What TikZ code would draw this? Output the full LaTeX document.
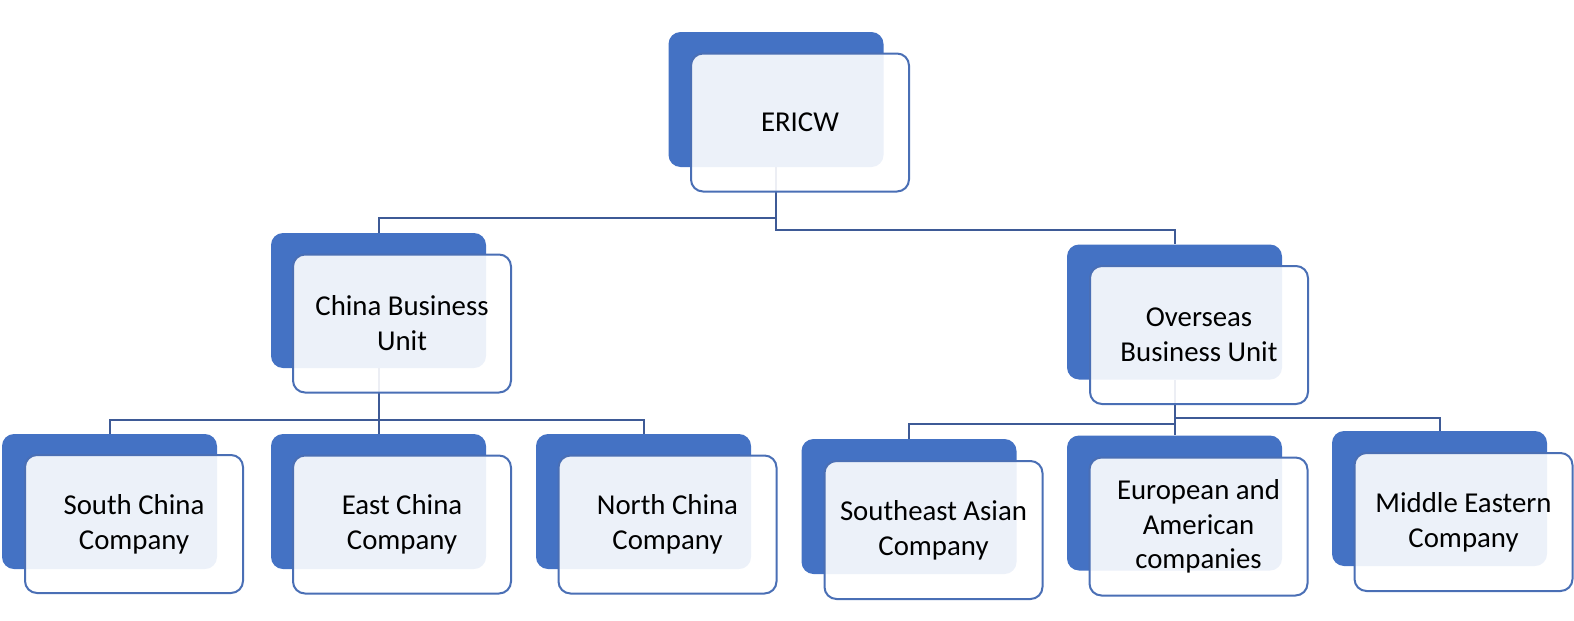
\documentclass[tikz,border=0pt]{standalone}
\usepackage{fontspec}
\setmainfont{Carlito}
\usepackage{tikz}
\usetikzlibrary{positioning,calc}
\definecolor{backclr}{RGB}{68,114,196}
\definecolor{edgeclr}{RGB}{74,111,181}
\definecolor{lineclr}{RGB}{62,90,150}

\begin{document}
\begin{tikzpicture}[
    x=0.5pt,
    y=-0.5pt,
    font=\fontsize{14.4}{17.4}\selectfont,
    backbox/.style={fill=backclr, draw=none, rounded corners=6pt, minimum width=107.5pt, minimum height=67.5pt},
    frontbox/.style={draw=edgeclr, line width=1pt, fill=white, fill opacity=0.9, text opacity=1, rounded corners=6pt, minimum width=109pt, minimum height=69pt, align=center},
    link/.style={draw=lineclr, line width=1pt}
]
\useasboundingbox (0,0) rectangle (1574,621);

% Back plates.
\node[backbox] (ericw_bg) at (776, 99.5) {};
\node[backbox] (china_bu_bg) at (378.5, 300.5) {};
\node[backbox] (overseas_bu_bg) at (1174.5, 312) {};
\node[backbox] (south_bg) at (109.5, 501.5) {};
\node[backbox] (east_bg) at (378.5, 501.5) {};
\node[backbox] (north_bg) at (643.5, 501.5) {};
\node[backbox] (southeast_bg) at (909, 506.5) {};
\node[backbox] (euram_bg) at (1174.5, 503) {};
\node[backbox] (mideast_bg) at (1439.5, 498.5) {};

% Split points.
\coordinate (top_l) at (776, 218);
\coordinate (top_r) at (776, 230);
\coordinate (china_split) at (378.5, 420);
\coordinate (ovs_r) at (1174.5, 418);
\coordinate (ovs_l) at (1174.5, 424);

% Connectors.
\draw[link] (ericw_bg.south) -- (top_l) -| (china_bu_bg.north);
\draw[link] (top_l) -- (top_r) -| (overseas_bu_bg.north);

\draw[link] (china_bu_bg.south) -- (china_split) -| (south_bg.north);
\draw[link] (china_split) -- (east_bg.north);
\draw[link] (china_split) -| (north_bg.north);

\draw[link] (overseas_bu_bg.south) -- (ovs_r) -| (mideast_bg.north);
\draw[link] (ovs_r) -- (euram_bg.north);
\draw[link] (ovs_l) -| (southeast_bg.north);

% Front cards.
\node[frontbox] (ericw) at (800, 122.5) {\raisebox{-2pt}{ERICW}};
\node[frontbox] (china_bu) at (402, 323.5) {China Business\\Unit};
\node[frontbox] (overseas_bu) at (1199, 335) {Overseas\\Business Unit};
\node[frontbox] (south) at (134, 524) {South China\\Company};
\node[frontbox] (east) at (402, 524.5) {East China\\Company};
\node[frontbox] (north) at (667.5, 524.5) {North China\\Company};
\node[frontbox] (southeast) at (933.5, 530) {Southeast Asian\\Company};
\node[frontbox] (euram) at (1198.5, 526.5) {European and\\American\\companies};
\node[frontbox] (mideast) at (1463.5, 522) {Middle Eastern\\Company};

\end{tikzpicture}
\end{document}
